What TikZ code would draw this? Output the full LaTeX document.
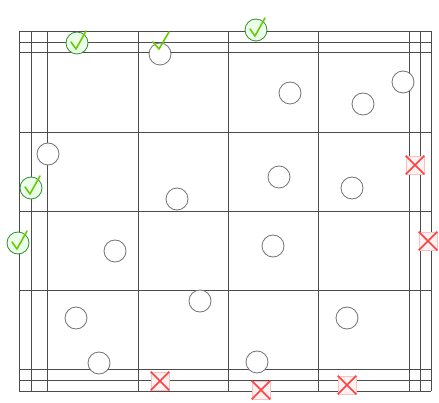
\documentclass[tikz,border=0pt]{standalone}
\begin{document}
\begin{tikzpicture}[x=1pt,y=-1pt,
  gridline/.style={draw=black!70, line width=0.7pt},
  ring/.style={circle, draw=black!55, fill=white, line width=0.8pt, minimum size=22pt, inner sep=0pt},
  okring/.style={circle, draw=black!40!green!60!gray, fill=green!8, line width=0.8pt, minimum size=22pt, inner sep=0pt},
  tick/.style={draw=green!50!yellow!80!black, line width=1.6pt, line cap=round, line join=round},
  xbox/.style={rectangle, draw=red!25, fill=red!5, line width=0.6pt, minimum size=18pt, inner sep=0pt},
  xcross/.style={draw=red!75, line width=1.5pt}]
\useasboundingbox (0,0) rectangle (439,403);
\fill[white] (0,0) rectangle (439,403);
% grid
\foreach \x in {19,31,47,138,228,318,409,420,431}
  \draw[gridline] (\x,31) -- (\x,391);
\foreach \y in {31,42,52,132,211,290,369,380,391}
  \draw[gridline] (19,\y) -- (431,\y);
% plain circles
\node[ring] (c1) at (48,154) {};
\node[ring] (c2) at (160,54) {};
\node[ring] (c3) at (290,93) {};
\node[ring] (c4) at (363,104) {};
\node[ring] (c5) at (403,82) {};
\node[ring] (c6) at (279,177) {};
\node[ring] (c7) at (352,188) {};
\node[ring] (c8) at (177,199) {};
\node[ring] (c9) at (115,251) {};
\node[ring] (c10) at (273,246) {};
\node[ring] (c11) at (200,301) {};
\node[ring] (c12) at (76,318) {};
\node[ring] (c13) at (347,318) {};
\node[ring] (c14) at (99,363) {};
\node[ring] (c15) at (257,362) {};
% check circles
\node[okring] (k1) at (77,43) {};
\node[okring] (k2) at (256,30) {};
\node[okring] (k3) at (31,188) {};
\node[okring] (k4) at (18,243) {};
\foreach \k in {k1,k2,k3,k4}
  \draw[tick] ([shift={(-6,-1)}]\k.center) -- ++(5,7) -- ++(10,-18);
\draw[tick] ([shift={(-7,-12)}]c2.center) -- ++(6,7) -- ++(10,-17);
% cross marks
\node[xbox] (x1) at (415,165) {};
\node[xbox] (x2) at (428,241) {};
\node[xbox] (x3) at (160,381) {};
\node[xbox] (x4) at (261,390) {};
\node[xbox] (x5) at (347,385) {};
\foreach \q in {x1,x2,x3,x4,x5}
  \draw[xcross] (\q.north west) -- (\q.south east) (\q.north east) -- (\q.south west);
\end{tikzpicture}
\end{document}
